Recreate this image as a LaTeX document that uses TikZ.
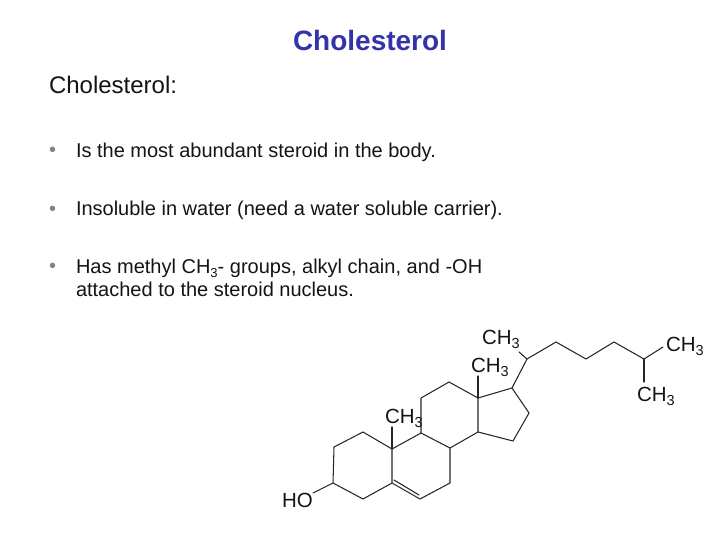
\documentclass[tikz,border=0pt]{standalone}
\usepackage{fontspec}
\setmainfont{Liberation Sans}
\definecolor{titleblue}{RGB}{51,51,170}
\definecolor{bulletgray}{RGB}{130,130,130}
\definecolor{inkblack}{RGB}{20,20,20}
\newcommand{\subthree}[2]{\raisebox{#2}{\fontsize{#1}{#1}\selectfont 3}}
\newcommand{\molch}{CH\subthree{14.5pt}{-4pt}}
\tikzset{
  x=1pt,y=-1pt,
  txt/.style={anchor=base west,inner sep=0pt,outer sep=0pt,text=inkblack},
  bodytxt/.style={txt,font=\fontsize{20pt}{24pt}\selectfont},
  bulletmark/.style={txt,text=bulletgray,font=\fontsize{20pt}{24pt}\selectfont},
  mol/.style={txt,font=\fontsize{20.5pt}{22pt}\selectfont},
  bond/.style={draw=black!85,line width=1.05pt,line join=miter,line cap=round}
}
\begin{document}
\begin{tikzpicture}
\useasboundingbox (0,0) rectangle (720,540);
\node[txt,text=titleblue,font=\bfseries\fontsize{28pt}{32pt}\selectfont] (title) at (293,50.5) {Cholesterol};
\node[txt,font=\fontsize{24pt}{28pt}\selectfont] (head) at (49,94) {Cholesterol:};
\node[bulletmark] (b1) at (49,157) {•};
\node[bulletmark] (b2) at (49,215) {•};
\node[bulletmark] (b3) at (49,272) {•};
\node[bodytxt] (t1) at (76,158) {Is the most abundant steroid in the body.};
\node[bodytxt] (t2) at (76,215.5) {Insoluble in water (need a water soluble carrier).};
\node[bodytxt] (t3) at (76,273) {Has methyl CH\subthree{13pt}{-4pt}- groups, alkyl chain, and -OH};
\node[bodytxt] (t4) at (76,296.5) {attached to the steroid nucleus.};

\foreach \n/\x/\y in {c1/363/432,c2/334/447,c3/333/483,c4/363/499,c5/392/483,c6/420/499,c7/450/483,c8/450/448,c9/421/433,c10/392/449,c11/421/398,c12/449/382,c13/478/398,c14/478/432,c15/513/441,c16/529/413,c17/512/388,c18/478/376,c19/392/427,c20/527/359,c21/519/352,c22/556/342,c23/586/359,c24/614/342,c25/644/359,c26/663/347,c27/644/382,o3/313/493,d5/394/480,d6/419/495}
  \coordinate (\n) at (\x,\y);

\draw[bond] (c10) -- (c1) -- (c2) -- (c3) -- (c4) -- (c5) -- (c10) -- (c9) -- (c8) -- (c7) -- (c6) -- (c5);
\draw[bond] (d5) -- (d6);
\draw[bond] (c9) -- (c11) -- (c12) -- (c13) -- (c14) -- (c8);
\draw[bond] (c14) -- (c15) -- (c16) -- (c17) -- (c13);
\draw[bond] (c17) -- (c20) -- (c22) -- (c23) -- (c24) -- (c25) -- (c26);
\draw[bond] (c25) -- (c27);
\draw[bond] (c20) -- (c21);
\draw[bond] (c13) -- (c18);
\draw[bond] (c10) -- (c19);
\draw[bond] (c3) -- (o3);

\node[mol] (m1) at (482,344) {\molch};
\node[mol] (m2) at (471,372.5) {\molch};
\node[mol] (m3) at (385,423) {\molch};
\node[mol] (m4) at (666,351) {\molch};
\node[mol] (m5) at (637,401) {\molch};
\node[mol] (ho) at (282,507) {HO};
\end{tikzpicture}
\end{document}
